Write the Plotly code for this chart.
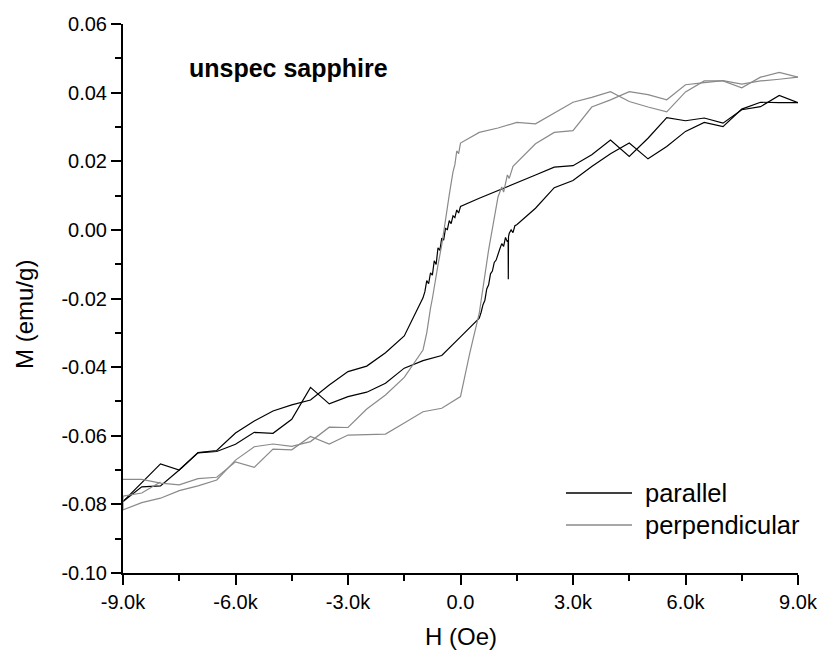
import plotly.graph_objects as go

# ---------------- data ----------------
# parallel, descending branch (H from +9k to -9k)
par_desc_H = [9000, 8500, 8000, 7500, 7000, 6500, 6000, 5500, 5000, 4500, 4000, 3500, 3000, 2500,
              2000, 1500, 1000, 500, 0,
              -50, -100, -150, -200, -250, -300, -350, -400, -450, -500, -550, -600, -650, -700,
              -750, -800, -850, -900, -950, -1000,
              -1500, -2000, -2500, -3000, -3500, -4000, -4500, -5000, -5500, -6000, -6500, -7000,
              -7500, -8000, -8500, -9000]
par_desc_M = [0.0371, 0.0392, 0.0359, 0.0350, 0.0311, 0.0326, 0.0318, 0.0327, 0.0267, 0.0214, 0.0262,
              0.0219, 0.0187, 0.0183, 0.0160, 0.0138, 0.0115, 0.0092, 0.0068,
              0.0049, 0.0058, 0.0036, 0.0041, 0.0018, 0.0027, 0.0001, 0.0004, -0.0030, -0.0024,
              -0.0060, -0.0052, -0.0101, -0.0090, -0.0132, -0.0125, -0.0157, -0.0148, -0.0180, -0.0198,
              -0.0309, -0.0358, -0.0397, -0.0413, -0.0452, -0.0496, -0.0510, -0.0528, -0.0557, -0.0592,
              -0.0643, -0.0649, -0.0700, -0.0682, -0.0738, -0.0792]

# parallel, ascending branch (H from -9k to +9k)
par_asc_H = [-9000, -8500, -8000, -7500, -7000, -6500, -6000, -5500, -5000, -4500, -4000, -3500, -3000,
             -2500, -2000, -1500, -1000, -500, 0, 500,
             550, 600, 650, 700, 750, 800, 850, 900, 950, 1000, 1050, 1100, 1150, 1200, 1250, 1270,
             1275, 1280, 1300, 1350, 1400, 1450, 1500,
             2000, 2500, 3000, 3500, 4000, 4500, 5000, 5500, 6000, 6500, 7000, 7500, 8000, 8500, 9000]
par_asc_M = [-0.0792, -0.0749, -0.0746, -0.0700, -0.0650, -0.0646, -0.0625, -0.0590, -0.0593, -0.0552,
             -0.0459, -0.0507, -0.0486, -0.0473, -0.0447, -0.0403, -0.0381, -0.0366, -0.0312, -0.0257,
             -0.0240, -0.0218, -0.0205, -0.0172, -0.0160, -0.0128, -0.0120, -0.0095, -0.0088, -0.0068,
             -0.0055, -0.0040, -0.0048, -0.0022, -0.0035, -0.0030, -0.0144, -0.0020, -0.0010, 0.0000,
             -0.0008, 0.0012, 0.0015,
             0.0063, 0.0123, 0.0144, 0.0185, 0.0222, 0.0253, 0.0207, 0.0243, 0.0287, 0.0313, 0.0301,
             0.0352, 0.0372, 0.0371, 0.0371]

# perpendicular, descending branch (H from +9k to -9k, then short retrace at the low end)
perp_desc_H = [9000, 8500, 8000, 7500, 7000, 6500, 6000, 5500, 5000, 4500, 4000, 3500, 3000, 2500,
               2000, 1500, 1000, 500, 0, -50, -100, -150, -200, -300, -400, -500, -600, -700, -750,
               -800, -900, -1000,
               -1500, -2000, -2500, -3000, -3500, -4000, -4500, -5000, -5500, -6000, -6500, -7000,
               -7500, -8000, -8500, -9000, -9000, -8500, -8000]
perp_desc_M = [0.0445, 0.0459, 0.0445, 0.0414, 0.0434, 0.0434, 0.0402, 0.0344, 0.0358, 0.0374, 0.0403,
               0.0386, 0.0372, 0.0340, 0.0309, 0.0313, 0.0297, 0.0284, 0.0253, 0.0222, 0.0230, 0.0190,
               0.0169, 0.0102, 0.0029, -0.0044, -0.0102, -0.0175, -0.0200, -0.0228, -0.0300, -0.0350,
               -0.0430, -0.0481, -0.0522, -0.0576, -0.0575, -0.0617, -0.0631, -0.0624, -0.0632, -0.0671,
               -0.0729, -0.0746, -0.0760, -0.0782, -0.0795, -0.0816, -0.0776, -0.0767, -0.0735]

# perpendicular, ascending branch (H from -9k to +9k)
perp_asc_H = [-9000, -8500, -8000, -7500, -7000, -6500, -6000, -5500, -5000, -4500, -4000, -3500, -3000,
              -2500, -2000, -1500, -1000, -500, 0, 250, 500, 750, 1000, 1100, 1150, 1250, 1300, 1400,
              1500, 2000, 2500, 3000, 3500, 4000, 4500, 5000, 5500, 6000, 6500, 7000, 7500, 8000,
              8500, 9000]
perp_asc_M = [-0.0727, -0.0727, -0.0738, -0.0743, -0.0725, -0.0721, -0.0676, -0.0692, -0.0639, -0.0641,
              -0.0602, -0.0624, -0.0598, -0.0596, -0.0595, -0.0563, -0.0530, -0.0520, -0.0486, -0.0358,
              -0.0243, -0.0058, 0.0096, 0.0125, 0.0110, 0.0160, 0.0150, 0.0185, 0.0196,
              0.0251, 0.0284, 0.0289, 0.0358, 0.0379, 0.0403, 0.0394, 0.0379, 0.0423, 0.0429, 0.0435,
              0.0425, 0.0434, 0.0439, 0.0445]

x_tickvals = [-9000, -6000, -3000, 0, 3000, 6000, 9000]
x_ticktext = ["-9.0k", "-6.0k", "-3.0k", "0.0", "3.0k", "6.0k", "9.0k"]
y_tickvals = [0.06, 0.04, 0.02, 0.0, -0.02, -0.04, -0.06, -0.08, -0.10]
y_ticktext = ["0.06", "0.04", "0.02", "0.00", "-0.02", "-0.04", "-0.06", "-0.08", "-0.10"]

series_names = ["parallel", "perpendicular"]
series_colors = ["#000000", "#8a8a8a"]

FONT = "Liberation Sans, Arial, sans-serif"

fig = go.Figure()
for H, M in [(par_desc_H, par_desc_M), (par_asc_H, par_asc_M)]:
    fig.add_trace(go.Scatter(x=H, y=M, mode="lines", name=series_names[0], legendgroup="par",
                             showlegend=False, line=dict(color=series_colors[0], width=1.2)))
for H, M in [(perp_desc_H, perp_desc_M), (perp_asc_H, perp_asc_M)]:
    fig.add_trace(go.Scatter(x=H, y=M, mode="lines", name=series_names[1], legendgroup="perp",
                             showlegend=False, line=dict(color=series_colors[1], width=1.2)))

axis_common = dict(showline=True, linewidth=2, linecolor="black", ticks="outside", ticklen=10,
                   tickwidth=2, tickcolor="black", showgrid=False, zeroline=False, mirror=False,
                   automargin=False,
                   tickfont=dict(family=FONT, size=20, color="black"))

fig.update_xaxes(range=[-9000, 9000], tickmode="array", tickvals=x_tickvals, ticktext=x_ticktext,
                 minor=dict(ticks="outside", ticklen=6, tickwidth=2, tickcolor="black", dtick=1500,
                            tick0=-9000, showgrid=False),
                 **axis_common)
fig.update_yaxes(range=[-0.10, 0.06], tickmode="array", tickvals=y_tickvals, ticktext=y_ticktext,
                 minor=dict(ticks="outside", ticklen=6, tickwidth=2, tickcolor="black", dtick=0.01,
                            tick0=0, showgrid=False),
                 **axis_common)

annotations = [
    dict(text="H (Oe)", xref="paper", yref="paper", x=0.5, y=0, yshift=-63, xanchor="center",
         yanchor="middle", showarrow=False, font=dict(family=FONT, size=24, color="black")),
    dict(text="M (emu/g)", xref="paper", yref="paper", x=0, y=0.47, xshift=-98, xanchor="center",
         yanchor="middle", textangle=-90, showarrow=False,
         font=dict(family=FONT, size=24, color="black")),
    dict(text="<b>unspec sapphire</b>", xref="paper", yref="paper", x=0.0948, y=0.9199,
         xanchor="left", yanchor="middle", showarrow=False,
         font=dict(family=FONT, size=25, color="black")),
]
shapes = []
leg_y = [0.1457, 0.0874]
for name, color, yy in zip(series_names, series_colors, leg_y):
    shapes.append(dict(type="line", xref="paper", yref="paper", x0=0.6563, x1=0.7541, y0=yy, y1=yy,
                       line=dict(color=color, width=1.5)))
    annotations.append(dict(text=name, xref="paper", yref="paper", x=0.7704, y=yy, xanchor="left",
                            yanchor="middle", showarrow=False,
                            font=dict(family=FONT, size=25.5, color="black")))

fig.update_layout(width=824, height=656, margin=dict(l=123, r=26, t=24, b=83),
                  paper_bgcolor="white", plot_bgcolor="white", showlegend=False,
                  annotations=annotations, shapes=shapes, font=dict(family=FONT))

fig.write_html("out.html")
